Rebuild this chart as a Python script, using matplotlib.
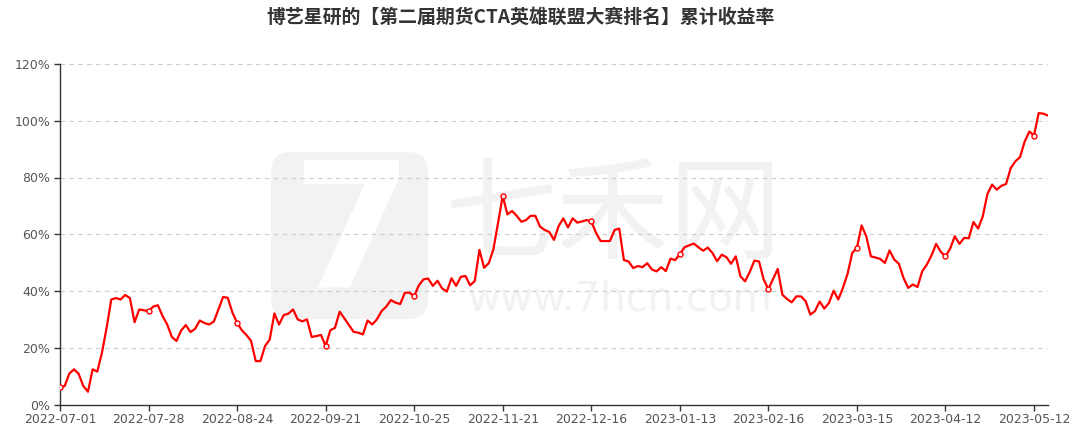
import matplotlib
matplotlib.use("Agg")
import matplotlib.pyplot as plt
from matplotlib.patches import FancyBboxPatch
from matplotlib.ticker import FuncFormatter

plt.rcParams['font.family'] = ['DejaVu Sans', 'Noto Sans CJK SC']

title = "博艺星研的【第二届期货CTA英雄联盟大赛排名】累计收益率"

tick_labels = ["2022-07-01", "2022-07-28", "2022-08-24", "2022-09-21", "2022-10-25",
               "2022-11-21", "2022-12-16", "2023-01-13", "2023-02-16", "2023-03-15",
               "2023-04-12", "2023-05-12"]
tick_step = 19

returns = [
    6.1, 6.5, 10.9, 12.4, 10.8, 6.5, 4.5, 12.4, 11.6, 18.2,
    27.0, 37.0, 37.5, 37.0, 38.6, 37.5, 29.0, 33.5, 33.2, 32.9,
    34.5, 35.0, 31.2, 28.2, 23.8, 22.4, 26.1, 28.0, 25.5, 26.7,
    29.6, 28.7, 28.2, 29.2, 33.5, 37.9, 37.6, 32.4, 28.8, 26.2,
    24.5, 22.4, 15.3, 15.3, 20.6, 22.9, 32.1, 28.2, 31.5, 32.0,
    33.5, 30.0, 29.3, 30.0, 23.8, 24.1, 24.5, 20.6, 26.2, 27.0,
    32.7, 30.4, 28.0, 25.6, 25.3, 24.7, 29.6, 28.2, 30.0, 32.9,
    34.5, 36.8, 35.9, 35.4, 39.4, 39.4, 38.2, 42.0, 44.1, 44.4,
    41.8, 43.6, 40.9, 39.8, 44.5, 41.8, 45.0, 45.3, 42.0, 43.5,
    54.5, 48.2, 49.8, 54.7, 64.1, 73.5, 67.0, 68.2, 66.5, 64.4,
    65.0, 66.5, 66.5, 62.7, 61.5, 60.8, 58.0, 62.9, 65.6, 62.4,
    65.6, 64.1, 64.5, 65.0, 64.5, 60.6, 57.6, 57.6, 57.6, 61.5,
    62.0, 50.9, 50.4, 48.1, 48.8, 48.4, 49.8, 47.6, 46.9, 48.4,
    47.0, 51.4, 50.9, 53.0, 55.4, 56.1, 56.7, 55.4, 54.2, 55.3,
    53.4, 50.5, 52.8, 51.9, 49.6, 52.2, 45.2, 43.4, 46.7, 50.7,
    50.4, 44.0, 40.7, 44.2, 47.8, 38.7, 37.2, 36.0, 38.1, 38.1,
    36.4, 31.7, 32.9, 36.3, 33.8, 35.8, 40.1, 37.0, 41.1, 46.1,
    53.4, 55.2, 63.1, 59.3, 52.2, 51.8, 51.3, 49.9, 54.3, 51.1,
    49.6, 44.6, 41.1, 42.3, 41.4, 46.9, 49.3, 52.5, 56.6, 53.8,
    52.2, 54.9, 59.3, 56.6, 58.7, 58.6, 64.3, 62.0, 66.3, 74.2,
    77.5, 75.7, 77.1, 77.7, 83.3, 85.7, 87.2, 92.7, 96.2, 94.8,
    102.7, 102.5, 101.8,
]

n = len(returns)
x = list(range(n))
tick_pos = list(range(0, n, tick_step))[:len(tick_labels)]

fig = plt.figure(figsize=(10.77, 4.30), dpi=100)
ax = fig.add_axes([60/1077, 1-404.5/430, (1048-60)/1077, (404.5-64)/430])

# watermark
wm = "#f2f2f2"
logo = FancyBboxPatch((0.2136, 0.251), 0.159, 0.49, boxstyle="round,pad=0,rounding_size=0.02",
                      transform=ax.transAxes, facecolor=wm, edgecolor="none", zorder=0,
                      mutation_aspect=2.9)
ax.add_patch(logo)
ax.text(0.295, 0.49, "7", transform=ax.transAxes, fontsize=125, fontweight='bold',
        color='white', ha='center', va='center', zorder=0.5)
ax.text(0.56, 0.548, "七禾网", transform=ax.transAxes, fontsize=81,
        family=['Noto Sans CJK SC'], color=wm, ha='center', va='center', zorder=0)
ax.text(0.566, 0.307, "www.7hcn.com", transform=ax.transAxes, fontsize=29,
        color=wm, ha='center', va='center', zorder=0)

ax.plot(x, returns, color='#ff0000', linewidth=1.6, zorder=3, solid_joinstyle='round')
ax.plot([x[i] for i in tick_pos], [returns[i] for i in tick_pos], linestyle='none',
        marker='o', markersize=3.6, markerfacecolor='white', markeredgecolor='#ff0000',
        markeredgewidth=1.0, zorder=4)

ax.set_xlim(0, n - 1)
ax.set_ylim(0, 120)
ax.set_yticks([0, 20, 40, 60, 80, 100, 120])
ax.yaxis.set_major_formatter(FuncFormatter(lambda v, p: f"{int(v)}%"))
ax.set_xticks(tick_pos)
ax.set_xticklabels(tick_labels)

for v in [20, 40, 60, 80, 100, 120]:
    ax.axhline(v, color='#cccccc', linewidth=0.8, linestyle=(0, (4, 4)), zorder=1)

for s in ['top', 'right']:
    ax.spines[s].set_visible(False)
for s in ['left', 'bottom']:
    ax.spines[s].set_color('#333333')
    ax.spines[s].set_linewidth(1.0)

ax.tick_params(axis='both', colors='#333333', length=4, width=1.0, labelsize=9,
               labelcolor='#555555')
ax.tick_params(axis='x', pad=2)
ax.tick_params(axis='y', pad=3)

fig.text(0.4835, 1-17/430, title, ha='center', va='center', fontsize=13.6,
         fontweight='bold', color='#333333', family=['Noto Sans CJK SC', 'DejaVu Sans'])

fig.savefig("out.png", dpi=100)
